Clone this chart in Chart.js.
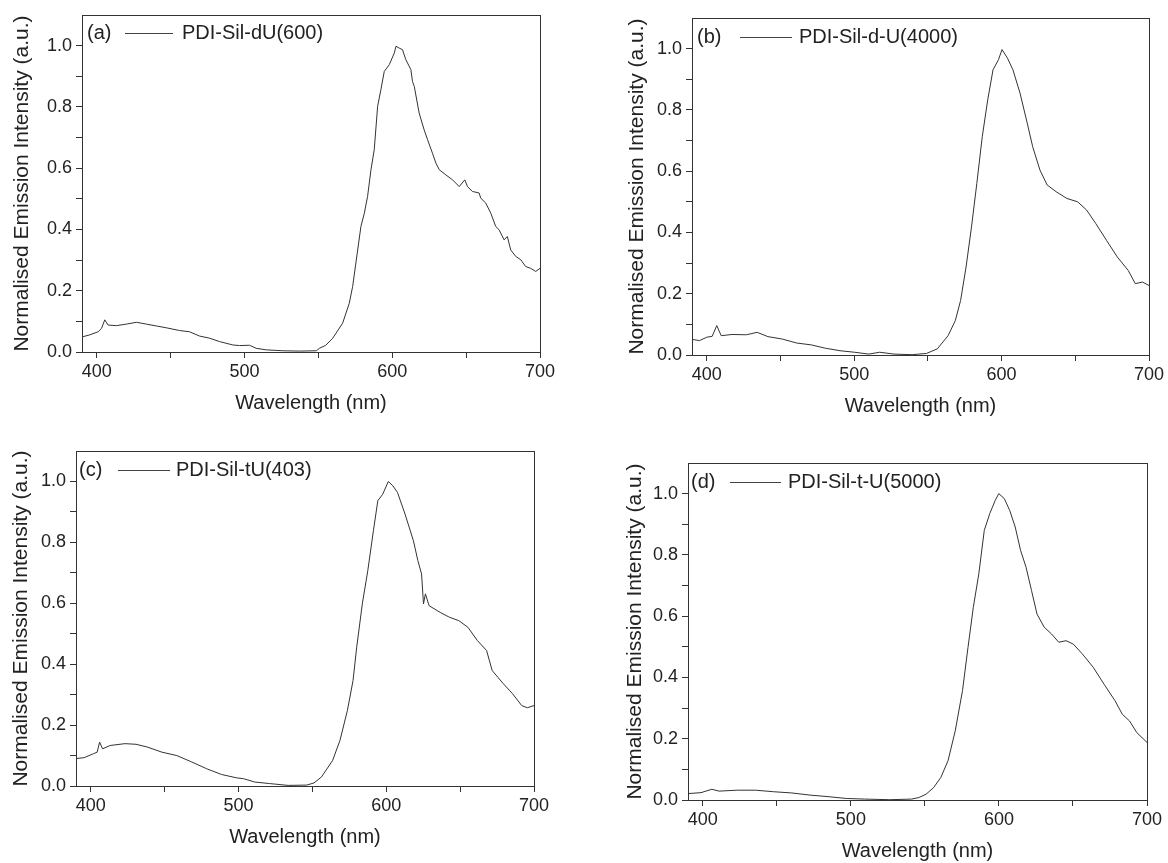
<!DOCTYPE html>
<html>
<head>
<meta charset="utf-8">
<script src="https://cdn.jsdelivr.net/npm/chart.js@4.4.1/dist/chart.umd.min.js"></script>
<style>
    html, body { margin: 0; padding: 0; background: #fff; overflow: hidden; }
    body { width: 1168px; height: 863px; position: relative; }
    .panel { position: absolute; }
</style>
</head>
<body>
<div class="panel" id="boxA" style="left:10px;top:0px;width:555px;height:415px"><canvas id="chartA"></canvas></div>
<div class="panel" id="boxB" style="left:625px;top:3px;width:549px;height:415px"><canvas id="chartB"></canvas></div>
<div class="panel" id="boxC" style="left:9px;top:436px;width:550px;height:413px"><canvas id="chartC"></canvas></div>
<div class="panel" id="boxD" style="left:623px;top:448px;width:549px;height:415px"><canvas id="chartD"></canvas></div>
<script>
// emission spectra
const waveA = [390, 390.7, 395.3, 400.9, 403.2, 405.4, 407.6, 413.3, 420, 426.8, 433.6, 440.3, 447.1, 456.1, 462.8, 469.6, 476.4, 483.1, 492.1, 496.6, 503.4, 507.9, 514.7, 525.9, 537.2, 548.6,
    550.7, 555, 559.7, 566.4, 570.9, 573.2, 576.6, 578.8, 581.1, 583.3, 585.6, 587.8, 590.1, 592.3, 594.6, 598, 601.4, 602.5, 604.7, 606.9, 609.2, 612.6, 613.7, 614.9, 618.2,
    621.6, 623.9, 627.2, 629.5, 631.8, 636.3, 640.8, 645.3, 649.1, 650.9, 654.3, 658.8, 659.9, 663.3, 666.7, 670, 672.3, 675.7, 677.9, 680.2, 683.6, 687, 690.3, 693.7, 697.1, 700];
const intensA = [0.048, 0.050, 0.056, 0.066, 0.077, 0.105, 0.088, 0.086, 0.091, 0.097, 0.091, 0.085, 0.079, 0.070, 0.066, 0.052, 0.045, 0.034, 0.023, 0.021, 0.022, 0.012, 0.007, 0.004, 0.003, 0.004,
    0.012, 0.022, 0.045, 0.094, 0.159, 0.214, 0.333, 0.410, 0.453, 0.508, 0.595, 0.660, 0.802, 0.856, 0.916, 0.938, 0.976, 0.998, 0.992, 0.987, 0.954, 0.922, 0.883, 0.867, 0.780,
    0.725, 0.693, 0.649, 0.617, 0.595, 0.578, 0.562, 0.540, 0.562, 0.540, 0.524, 0.519, 0.502, 0.486, 0.453, 0.410, 0.399, 0.366, 0.377, 0.333, 0.312, 0.301, 0.279, 0.273, 0.263, 0.273];

const waveB = [390, 391.4, 395.1, 400, 403.7, 406.8, 409.8, 417.1, 426.9, 434.2, 441.5, 451.3, 461.1, 470.9, 480.6, 490.4, 500.2, 509.9, 517.3, 527, 539.3, 549, 556.4, 563.7, 568.6,
    572.2, 575.9, 579.6, 583.2, 586.9, 590.6, 594.2, 597.9, 600.3, 604, 607.7, 612.5, 617.4, 621.1, 626, 630.9, 637, 644.3, 651.6, 657.7, 663.9, 671.2, 678.5, 685.9, 690.7, 695.6, 700];
const intensB = [0.050, 0.050, 0.047, 0.058, 0.061, 0.096, 0.063, 0.067, 0.066, 0.074, 0.060, 0.052, 0.039, 0.033, 0.022, 0.014, 0.009, 0.003, 0.009, 0.003, 0.001, 0.005, 0.020, 0.063, 0.112,
    0.178, 0.287, 0.418, 0.560, 0.713, 0.833, 0.931, 0.964, 0.997, 0.969, 0.931, 0.855, 0.757, 0.680, 0.604, 0.555, 0.533, 0.511, 0.500, 0.473, 0.429, 0.374, 0.320, 0.276, 0.233, 0.238, 0.227];

const waveC = [390, 395.5, 401.8, 404.3, 406, 408, 413.1, 423.1, 430.6, 438.2, 448.2, 458.2, 468.3, 478.3, 488.4, 498.4, 503.4, 511, 521, 533.6, 546.1, 551.1, 556.2, 563.7, 568.7,
    573.7, 577.5, 580, 583.8, 587.5, 591.3, 594.3, 597.6, 601.4, 604.4, 607.6, 612.7, 618.4, 621.4, 623.9, 625.2, 626.5, 629, 636.5, 642.8, 649.1, 655.3, 661.6, 667.9, 671.7,
    679.2, 685.5, 691.7, 695.5, 700];
const intensC = [0.090, 0.093, 0.106, 0.111, 0.144, 0.122, 0.133, 0.139, 0.137, 0.128, 0.111, 0.100, 0.079, 0.057, 0.038, 0.027, 0.024, 0.013, 0.008, 0.002, 0.003, 0.010, 0.030, 0.084, 0.150,
    0.248, 0.346, 0.456, 0.598, 0.707, 0.838, 0.937, 0.958, 1.000, 0.986, 0.964, 0.893, 0.805, 0.740, 0.696, 0.598, 0.631, 0.592, 0.570, 0.554, 0.543, 0.521, 0.478, 0.445, 0.379,
    0.336, 0.303, 0.264, 0.257, 0.264];

const waveD = [390.2, 398.8, 406.1, 411, 423.3, 435.6, 447.8, 460.1, 472.4, 484.6, 496.9, 509.1, 526.3, 541, 545.9, 550.8, 555.8, 560.7, 565.6, 570.5, 575.4, 579.1, 582.7, 586.4,
    590.1, 593.8, 597.5, 599.9, 603.6, 607.3, 611, 614.6, 618.3, 622, 625.7, 630.6, 635.5, 640.4, 645.3, 650.2, 656.3, 663.7, 671, 678.4, 683.3, 688.2, 693.1, 700];
const intensD = [0.021, 0.024, 0.035, 0.029, 0.032, 0.032, 0.027, 0.023, 0.016, 0.011, 0.005, 0.003, 0.001, 0.003, 0.008, 0.019, 0.040, 0.073, 0.128, 0.226, 0.357, 0.498, 0.629, 0.738,
    0.880, 0.935, 0.978, 1.000, 0.984, 0.945, 0.891, 0.815, 0.760, 0.684, 0.607, 0.564, 0.542, 0.515, 0.520, 0.509, 0.477, 0.433, 0.378, 0.324, 0.280, 0.258, 0.220, 0.188];

const sampleNames = ['PDI-Sil-dU(600)', 'PDI-Sil-d-U(4000)', 'PDI-Sil-tU(403)', 'PDI-Sil-t-U(5000)'];
const panelTags = ['(a)', '(b)', '(c)', '(d)'];

const xTickValues = [400, 450, 500, 550, 600, 650, 700];
const xTickLabels = ['400', '', '500', '', '600', '', '700'];
const yTickValues = [0, 0.1, 0.2, 0.3, 0.4, 0.5, 0.6, 0.7, 0.8, 0.9, 1.0];
const yTickLabels = ['0.0', '', '0.2', '', '0.4', '', '0.6', '', '0.8', '', '1.0'];

const FONT = '"Liberation Sans", Arial, Helvetica, sans-serif';
const INK = '#222';

// box frame + "(a) —— name" legend inside the plot
const panelDecor = {
    id: 'panelDecor',
    afterDraw(chart, args, opts) {
        const ctx = chart.ctx;
        const area = chart.chartArea;
        ctx.save();
        ctx.strokeStyle = '#333';
        ctx.lineWidth = 1;
        ctx.strokeRect(Math.round(area.left) + 0.5, Math.round(area.top) + 0.5,
            Math.round(area.right - area.left), Math.round(area.bottom - area.top));

        const y = area.top + opts.dy;
        ctx.font = '20px ' + FONT;
        ctx.fillStyle = INK;
        ctx.textBaseline = 'middle';
        ctx.textAlign = 'left';
        ctx.fillText(opts.tag, area.left + opts.tagX, y);
        ctx.beginPath();
        ctx.moveTo(area.left + opts.lineStart, Math.round(y) + 0.5);
        ctx.lineTo(area.left + opts.lineEnd, Math.round(y) + 0.5);
        ctx.strokeStyle = '#444';
        ctx.stroke();
        ctx.fillText(chart.data.datasets[0].label, area.left + opts.textX, y);
        ctx.restore();
    }
};

function makePanel(canvasId, waves, values, idx, yWidth, legendPos) {
    let points = [];
    for (let i = 0; i < waves.length; i++) {
        points.push({x: waves[i], y: values[i]});
    }

    return new Chart(document.getElementById(canvasId), {
        type: 'line',
        data: {
            datasets: [{
                label: sampleNames[idx],
                data: points,
                borderColor: '#333',
                borderWidth: 1,
                pointRadius: 0,
                tension: 0,
                fill: false
            }]
        },
        options: {
            responsive: true,
            maintainAspectRatio: false,
            animation: false,
            layout: { padding: { top: 15, right: 25, bottom: 0, left: 0 } },
            plugins: {
                legend: { display: false },
                tooltip: { enabled: false },
                panelDecor: Object.assign({ tag: panelTags[idx] }, legendPos)
            },
            scales: {
                x: {
                    type: 'linear',
                    min: 390,
                    max: 700,
                    afterBuildTicks: (scale) => { scale.ticks = xTickValues.map(v => ({value: v})); },
                    afterFit: (scale) => { scale.height = 63; },
                    border: { color: '#333', width: 1 },
                    grid: { drawOnChartArea: false, tickLength: 6, color: '#333' },
                    ticks: {
                        autoSkip: false,
                        maxRotation: 0,
                        padding: 3,
                        color: INK,
                        font: { family: FONT, size: 18 },
                        callback: (value, i) => xTickLabels[i]
                    },
                    title: {
                        display: true,
                        text: 'Wavelength (nm)',
                        color: INK,
                        padding: 0,
                        font: { family: FONT, size: 20 }
                    }
                },
                y: {
                    type: 'linear',
                    min: 0,
                    max: 1.1,
                    afterBuildTicks: (scale) => { scale.ticks = yTickValues.map(v => ({value: v})); },
                    afterFit: (scale) => { scale.width = yWidth; },
                    border: { color: '#333', width: 1 },
                    grid: { drawOnChartArea: false, tickLength: 6, color: '#333' },
                    ticks: {
                        autoSkip: false,
                        padding: 4,
                        color: INK,
                        font: { family: FONT, size: 18 },
                        callback: (value, i) => yTickLabels[i]
                    },
                    title: {
                        display: true,
                        text: 'Normalised Emission Intensity (a.u.)',
                        color: INK,
                        padding: 0,
                        font: { family: FONT, size: 21 }
                    }
                }
            }
        },
        plugins: [panelDecor]
    });
}

window.addEventListener('load', function () {
    makePanel('chartA', waveA, intensA, 0, 72, { dy: 18, tagX: 5, lineStart: 43, lineEnd: 91, textX: 100 });
    makePanel('chartB', waveB, intensB, 1, 67, { dy: 19, tagX: 5, lineStart: 48, lineEnd: 100, textX: 107 });
    makePanel('chartC', waveC, intensC, 2, 67, { dy: 19, tagX: 3, lineStart: 42, lineEnd: 94, textX: 100 });
    makePanel('chartD', waveD, intensD, 3, 65, { dy: 19, tagX: 3, lineStart: 42, lineEnd: 93, textX: 100 });
});
</script>
</body>
</html>
